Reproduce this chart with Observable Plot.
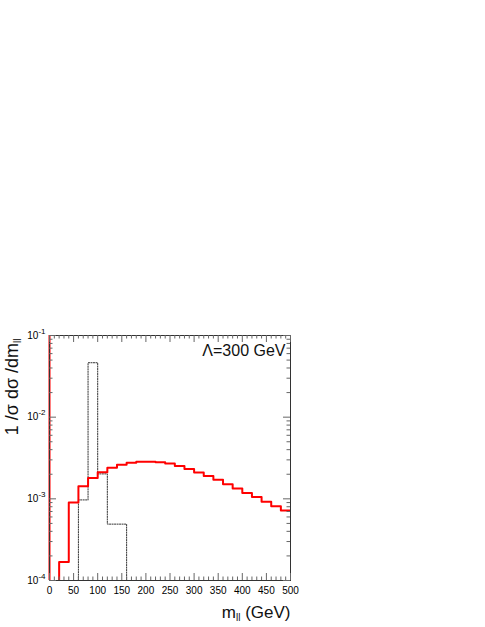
<!DOCTYPE html>
<html><head><meta charset="utf-8">
<script src="https://cdn.jsdelivr.net/npm/d3@7"></script>
<script src="https://cdn.jsdelivr.net/npm/@observablehq/plot@0.6"></script>
<style>body{margin:0;background:#fff}</style>
</head><body><div id="chart"></div>
<script>
// ---- data ----
const binEdges = [0,20,40,60,80,100,120,140,160,180,200,220,240,260,280,300,320,340,360,380,400,420,440,460,480,500];
const redValues = [0,1.69e-4,9.0e-4,1.43e-3,1.80e-3,2.12e-3,2.41e-3,2.62e-3,2.77e-3,2.85e-3,2.85e-3,2.80e-3,2.70e-3,2.52e-3,2.32e-3,2.10e-3,1.91e-3,1.71e-3,1.51e-3,1.34e-3,1.18e-3,1.05e-3,9.2e-4,8.1e-4,7.2e-4];
const dottedValues = [0,0,0,9.7e-4,4.64e-2,2.02e-3,4.9e-4,4.9e-4,0,0,0,0,0,0,0,0,0,0,0,0,0,0,0,0,0];
const xMajorTicks = [0,50,100,150,200,250,300,350,400,450,500];
const xMinorTicks = [10,20,30,40,60,70,80,90,110,120,130,140,160,170,180,190,210,220,230,240,260,270,280,290,310,320,330,340,360,370,380,390,410,420,430,440,460,470,480,490];
const yMajorTicks = [1e-4,1e-3,1e-2,1e-1];
const yTickBase = "10";
const yTickExponents = ["-4","-3","-2","-1"];
const yMinorTicks = [2e-4,3e-4,4e-4,5e-4,6e-4,7e-4,8e-4,9e-4,2e-3,3e-3,4e-3,5e-3,6e-3,7e-3,8e-3,9e-3,2e-2,3e-2,4e-2,5e-2,6e-2,7e-2,8e-2,9e-2];
const annotation = "\u039B=300 GeV";
const xLabelParts = ["m", "ll", " (GeV)"];
const yLabelParts = ["1 /\u03C3 d\u03C3 /dm", "ll"];
const emptyBin = 1e-6; // stand-in for empty bins (below the axis range)

// ---- layout ----
const W = 485, H = 627, mL = 49, mR = 195, mT = 335, mB = 47;
const plotW = W - mL - mR, plotH = H - mT - mB;
const majLen = 7, minLen = 3.5;

const steps = vals => binEdges.map((e, i) => {
  const v = vals[Math.min(i, vals.length - 1)];
  return {x: e, y: v > 0 ? v : emptyBin};
});

const tickFont = "Liberation Sans Narrow, Liberation Sans, Arial, sans-serif";

const chart = Plot.plot({
  width: W, height: H,
  marginLeft: mL, marginRight: mR, marginTop: mT, marginBottom: mB,
  style: {fontFamily: "Liberation Sans, Arial, sans-serif", background: "white", overflow: "visible"},
  x: {type: "linear", domain: [0, 500], label: null},
  y: {type: "log", domain: [1e-4, 1e-1], label: null},
  marks: [
    Plot.ruleX([0], {stroke: "#ff0000", strokeWidth: 2}),
    Plot.line(steps(dottedValues), {x: "x", y: "y", curve: "step-after", stroke: "#333", strokeWidth: 1, strokeDasharray: "1.2,1.3", clip: true}),
    Plot.line(steps(redValues), {x: "x", y: "y", curve: "step-after", stroke: "#ff0000", strokeWidth: 2, clip: true}),
    Plot.frame({stroke: "#333", strokeWidth: 1}),
    // inward ticks, bottom/top
    Plot.tickX(xMajorTicks, {x: d => d, insetTop: plotH - majLen, stroke: "#666"}),
    Plot.tickX(xMinorTicks, {x: d => d, insetTop: plotH - minLen, stroke: "#666"}),
    Plot.tickX(xMajorTicks, {x: d => d, insetBottom: plotH - majLen, stroke: "#666"}),
    Plot.tickX(xMinorTicks, {x: d => d, insetBottom: plotH - minLen, stroke: "#666"}),
    // inward ticks, left/right
    Plot.tickY(yMajorTicks, {y: d => d, insetRight: plotW - majLen, stroke: "#666"}),
    Plot.tickY(yMinorTicks, {y: d => d, insetRight: plotW - minLen, stroke: "#666"}),
    Plot.tickY(yMajorTicks, {y: d => d, insetLeft: plotW - majLen, stroke: "#666"}),
    Plot.tickY(yMinorTicks, {y: d => d, insetLeft: plotW - minLen, stroke: "#666"}),
    Plot.axisX({ticks: xMajorTicks, tickSize: 0, tickPadding: 6, fontSize: 10, fontFamily: tickFont, label: null, tickFormat: d => String(d)}),
    Plot.axisY({ticks: yMajorTicks, tickSize: 0, tickPadding: 4, fontSize: 10, fontFamily: tickFont, label: null,
      tickFormat: d => yTickBase + "^" + yTickExponents[yMajorTicks.indexOf(d)]}),
    Plot.text([annotation], {frameAnchor: "top-right", dx: -5, dy: 20, lineAnchor: "bottom", textAnchor: "end", fontSize: 16, fill: "#111"}),
    Plot.text([xLabelParts.join("")], {frameAnchor: "bottom-right", dy: 37, lineAnchor: "bottom", textAnchor: "end", fontSize: 17, fill: "#111"}),
    Plot.text([yLabelParts.join("")], {frameAnchor: "top-left", dx: -32, dy: 3, rotate: -90, textAnchor: "end", lineAnchor: "bottom", fontSize: 18, fill: "#111"})
  ]
});
document.getElementById("chart").appendChild(chart);

// rebuild some labels with real tspans (subscripts / superscripts)
const ns = "http://www.w3.org/2000/svg";
function rebuild(match, parts, special, size, shift) {
  chart.querySelectorAll("text").forEach(t => {
    if (t.textContent !== match) return;
    while (t.firstChild) t.removeChild(t.firstChild);
    parts.forEach((p, i) => {
      const s = document.createElementNS(ns, "tspan");
      s.textContent = p;
      if (i === special) { s.setAttribute("font-size", size); s.setAttribute("dy", shift); }
      else if (i === special + 1) { s.setAttribute("dy", -shift); }
      t.appendChild(s);
    });
  });
}
rebuild(xLabelParts.join(""), xLabelParts, 1, 10, 3);
rebuild(yLabelParts.join(""), yLabelParts, 1, 10, 3);
yTickExponents.forEach(e => rebuild(yTickBase + "^" + e, [yTickBase, e], 1, 8, -5));
</script></body></html>
